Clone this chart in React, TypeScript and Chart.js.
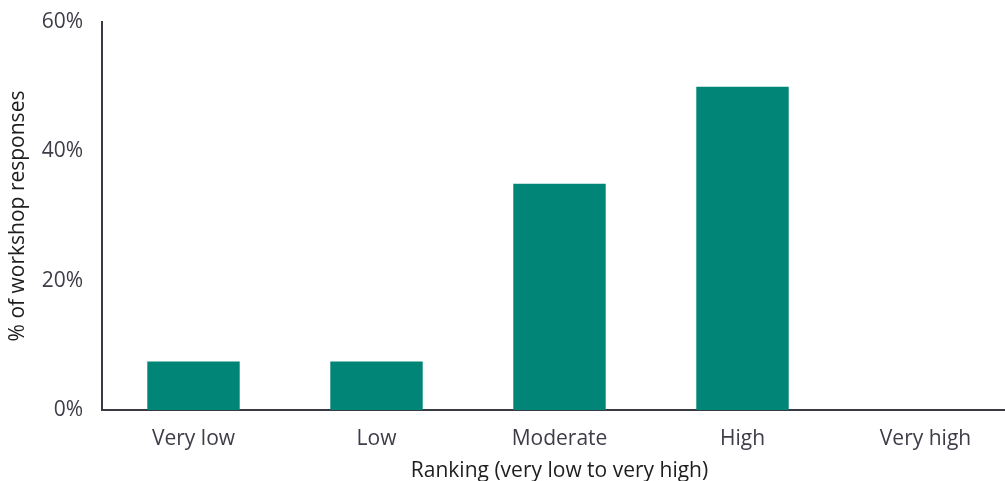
import React, { useEffect, useRef } from "react";
import { Chart, registerables } from "chart.js";

Chart.register(...registerables);

const categories = ["Very low", "Low", "Moderate", "High", "Very high"];
const values = [7.5, 7.5, 35, 50, 0];
const yTicks = [0, 20, 40, 60];

const FONT = "'Open Sans', 'Noto Sans', sans-serif";
const TEXT = "#3d3d48";
const AXIS = "#3a3a44";
const BAR = "#008577";

const CANVAS_W = 1019;

export default function App() {
  const ref = useRef<HTMLCanvasElement | null>(null);
  useEffect(() => {
    if (!ref.current) return;
    const chart = new Chart(ref.current, {
      type: "bar",
      data: {
        labels: categories,
        datasets: [
          {
            data: values,
            backgroundColor: BAR,
            borderWidth: 0,
            categoryPercentage: 1,
            barPercentage: 0.505,
          },
        ],
      },
      options: {
        animation: false,
        responsive: false,
        maintainAspectRatio: false,
        layout: { padding: { top: 22, right: 2, left: 0, bottom: 0 } },
        plugins: { legend: { display: false }, tooltip: { enabled: false } },
        scales: {
          x: {
            grid: { display: false, drawTicks: false },
            border: { display: true, color: AXIS, width: 2 },
            ticks: { color: TEXT, font: { family: FONT, size: 21 }, padding: 16 },
            title: {
              display: true,
              text: "Ranking (very low to very high)",
              color: "#1e1e1e",
              font: { family: FONT, size: 21 },
              padding: { top: 0, bottom: -3 },
            },
            afterFit: (axis: any) => {
              axis.height = 71;
              axis.paddingLeft = 0;
              axis.paddingRight = 0;
            },
          },
          y: {
            min: 0,
            max: 60,
            afterBuildTicks: (axis: any) => {
              axis.ticks = yTicks.map((v) => ({ value: v }));
            },
            grid: { display: false, drawTicks: false },
            border: { display: true, color: AXIS, width: 2 },
            ticks: {
              color: TEXT,
              font: { family: FONT, size: 21 },
              padding: 19,
              callback: (v: any) => v + "%",
            },
            title: {
              display: true,
              text: "% of workshop responses",
              color: "#1e1e1e",
              font: { family: FONT, size: 21 },
              padding: { top: 5, bottom: 0 },
            },
            afterFit: (axis: any) => {
              axis.width = 102;
              axis.paddingTop = 0;
              axis.paddingBottom = 0;
            },
          },
        },
      },
    });
    return () => chart.destroy();
  }, []);
  return (
    <div
      style={{
        position: "fixed",
        left: 0,
        top: 0,
        width: 1005,
        height: 481,
        overflow: "hidden",
        background: "#fff",
      }}
    >
      <canvas ref={ref} width={CANVAS_W} height={481} style={{ width: CANVAS_W, height: 481 }} />
    </div>
  );
}
